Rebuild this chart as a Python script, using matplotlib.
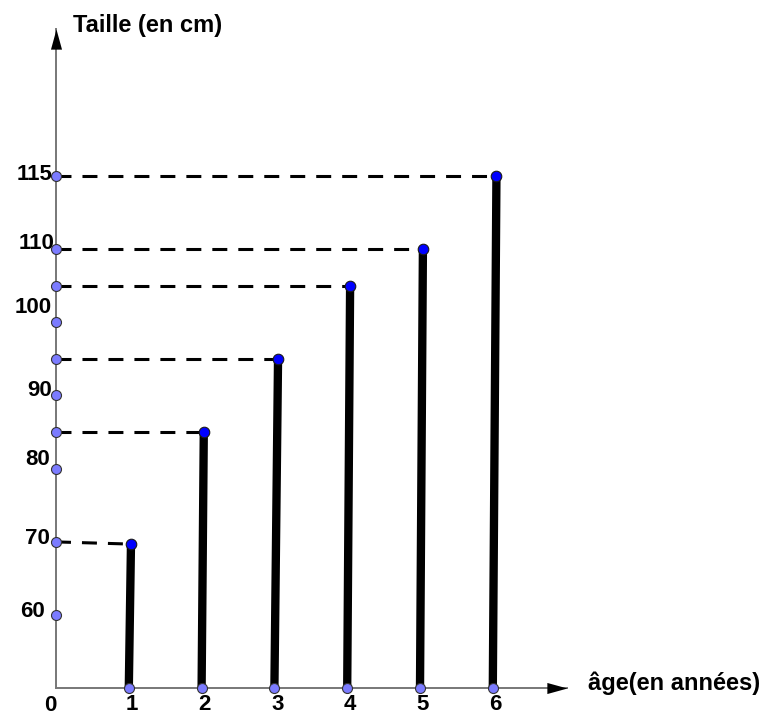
import numpy as np
import matplotlib.pyplot as plt

# data
ages = [1, 2, 3, 4, 5, 6]
top_x = [1.03, 2.03, 3.05, 4.04, 5.04, 6.05]   # the tops lean a little
heights = [69.7, 85, 95, 105, 110, 115]
axis_levels = [70, 85, 95, 105, 110, 115]      # where each dashed line meets the y axis
y_points = [60, 70, 80, 85, 90, 95, 100, 105, 110, 115]
y_labels = [60, 70, 80, 90, 100, 110, 115]

# the y axis is not linear: one step per label
scale_cm = np.array([0, 60, 70, 80, 90, 100, 110, 115], dtype=float)
scale_pos = np.arange(len(scale_cm), dtype=float)


def forward(v):
    v = np.asarray(v, dtype=float)
    return np.where(v < 0, v / 60.0,
                    np.where(v > 115, 7 + (v - 115) / 5.0, np.interp(v, scale_cm, scale_pos)))


def inverse(p):
    p = np.asarray(p, dtype=float)
    return np.where(p < 0, p * 60.0,
                    np.where(p > 7, 115 + (p - 7) * 5.0, np.interp(p, scale_pos, scale_cm)))


fig = plt.figure(figsize=(7.7, 7.17), dpi=100)
ax = fig.add_axes([0, 0, 1, 1])
ax.set_yscale('function', functions=(forward, inverse))
ax.set_xlim(-56 / 72.8, (770 - 56) / 72.8)
ax.set_ylim(inverse(-28.7 / 73.2), inverse(688.3 / 73.2))
ax.axis('off')

font = dict(family=['Liberation Sans', 'DejaVu Sans'], fontweight='bold', color='black')

# axes with arrows
x_end, y_end = 7.02, 125
ax.plot([0, x_end], [0, 0], color='#777777', lw=1.4, zorder=1)
ax.plot([0, 0], [0, y_end], color='#777777', lw=1.4, zorder=1)
head_up = [(0, 0), (-0.275, -1), (0.275, -1), (0, 0)]
head_right = [(0, 0), (-1, 0.275), (-1, -0.275), (0, 0)]
ax.plot([0], [y_end], marker=head_up, ms=29, color='black', mew=0, zorder=2)
ax.plot([x_end], [0], marker=head_right, ms=29, color='black', mew=0, zorder=2)

# dashed guides
for tx, h, lev in zip(top_x, heights, axis_levels):
    ax.plot([0, tx], [lev, h], color='black', lw=2.2, linestyle=(0, (4.9, 3.6)), zorder=3)

# bars
for a, tx, h in zip(ages, top_x, heights):
    ax.plot([a, tx], [0, h], color='black', lw=6, solid_capstyle='butt', zorder=4)

# points on the axes
ax.plot(ages, [0] * len(ages), 'o', ms=7.2, mfc='#7b7bff', mec='#333333', mew=0.8, zorder=5)
ax.plot([0] * len(y_points), y_points, 'o', ms=7.2, mfc='#7b7bff', mec='#333333', mew=0.8, zorder=5)
# top points
ax.plot(top_x, heights, 'o', ms=7.6, mfc='#0000ff', mec='#1a1a1a', mew=0.8, zorder=6)

# tick labels
for a in ages:
    ax.annotate(str(a), (a, 0), xytext=(3, -22), textcoords='offset pixels',
                ha='center', va='baseline', fontsize=16, **font)
ax.annotate('0', (0, 0), xytext=(-6, -23), textcoords='offset pixels',
            ha='center', va='baseline', fontsize=16, **font)
y_offsets = [(-11, -2), (-6, -2), (-6, 4), (-4, 0), (-4, 9), (-1, 0), (-3, -4)]
for v, (dx, dy) in zip(y_labels, y_offsets):
    ax.annotate(str(v), (0, v), xytext=(dx, dy), textcoords='offset pixels',
                ha='right', va='baseline', fontsize=16, **font)

# axis titles
ax.annotate('Taille (en cm)', (0, y_end), xytext=(17, -3), textcoords='offset pixels',
            ha='left', va='baseline', fontsize=17, **font)
ax.annotate('âge(en années)', (x_end, 0), xytext=(21, -2), textcoords='offset pixels',
            ha='left', va='baseline', fontsize=17, **font)

fig.savefig('out.png', dpi=100)
